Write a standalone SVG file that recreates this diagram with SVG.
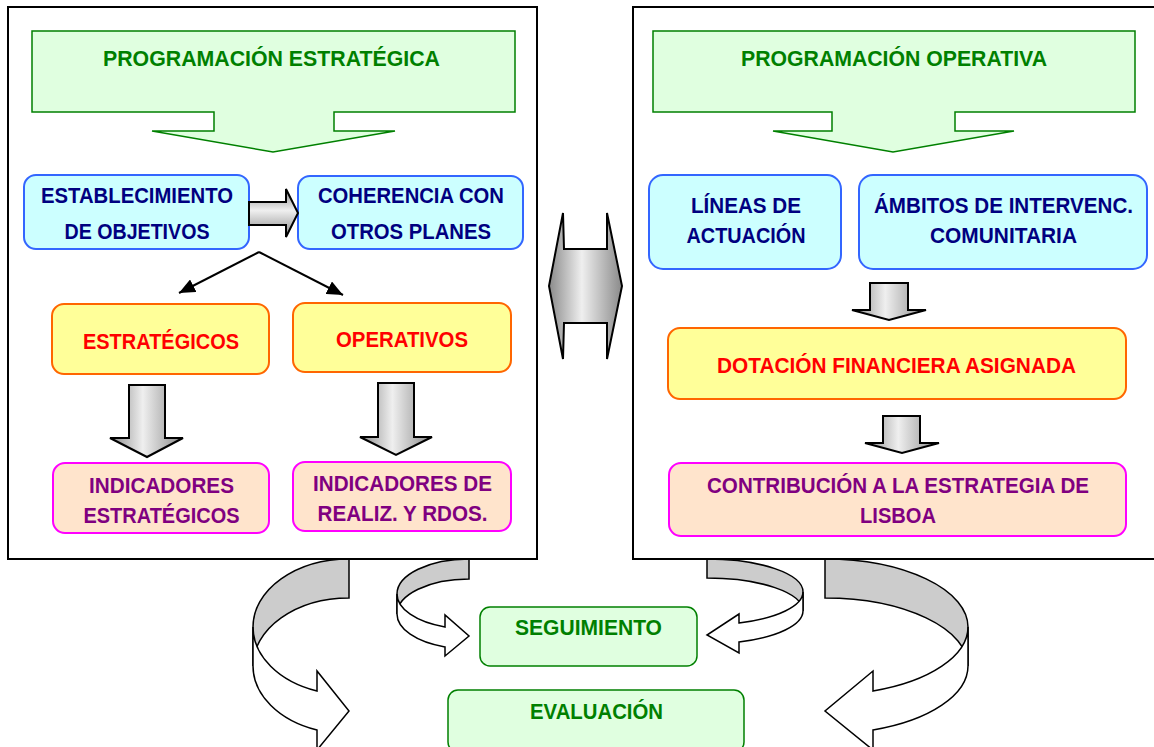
<svg xmlns="http://www.w3.org/2000/svg" width="1154" height="747" viewBox="0 0 1154 747">
<style>
.frame{fill:#fff;stroke:#000;stroke-width:2}
.garrow{fill:#e0ffe0;stroke:#008000;stroke-width:1.5}
.blue{fill:#ccffff;stroke:#3366ff;stroke-width:2}
.yellow{fill:#ffff99;stroke:#ff6600;stroke-width:2}
.peach{fill:#ffe4cc;stroke:#ff00ff;stroke-width:2}
.green{fill:#e0ffe0;stroke:#008000;stroke-width:1.5}
text{font-family:"Liberation Sans",Arial,sans-serif;font-weight:bold;font-size:22px;text-anchor:middle}
.tg{fill:#008000}
.tb{fill:#000080}
.tr{fill:#ff0000}
.tp{fill:#800080}
.gray{stroke:#000;stroke-width:2;stroke-linejoin:miter}
.curveback{fill:#cccccc;stroke:#000;stroke-width:1.5}
.curvefront{fill:#fff;stroke:#000;stroke-width:1.5}
.line{stroke:#000;stroke-width:2;fill:none}
</style>
<defs>
<linearGradient id="gh" x1="0" y1="0" x2="1" y2="0">
<stop offset="0" stop-color="#8a8a8a"/>
<stop offset="0.45" stop-color="#efefef"/>
<stop offset="1" stop-color="#8a8a8a"/>
</linearGradient>
<linearGradient id="gv" x1="0" y1="0" x2="0" y2="1">
<stop offset="0" stop-color="#8a8a8a"/>
<stop offset="0.45" stop-color="#efefef"/>
<stop offset="1" stop-color="#8a8a8a"/>
</linearGradient>
<marker id="ah" markerUnits="userSpaceOnUse" markerWidth="16" markerHeight="14" refX="16" refY="7" orient="auto">
<path d="M0,0 L16,7 L0,14 Z" fill="#000"/>
</marker>
</defs>

<g id="frames">
<rect class="frame" x="8" y="7" width="529" height="552"/>
<rect class="frame" x="633" y="7" width="530" height="552"/>
</g>

<g id="prog-estrategica">
<polygon class="garrow" points="32,31 515,31 515,112 334,112 334,131 395,131 273,152 152,131 214,131 214,112 32,112"/>
<text class="tg" x="271.5" y="66" textLength="337" lengthAdjust="spacingAndGlyphs">PROGRAMACIÓN ESTRATÉGICA</text>
</g>
<g id="prog-operativa">
<polygon class="garrow" points="653,31 1135,31 1135,112 955,112 955,131 1014,131 893,152 773,131 832,131 832,112 653,112"/>
<text class="tg" x="894" y="66" textLength="306" lengthAdjust="spacingAndGlyphs">PROGRAMACIÓN OPERATIVA</text>
</g>

<g id="establecimiento">
<rect class="blue" x="24" y="175" width="225" height="74" rx="12"/>
<text class="tb" x="137" y="203" textLength="192" lengthAdjust="spacingAndGlyphs">ESTABLECIMIENTO</text>
<text class="tb" x="137" y="239" textLength="145" lengthAdjust="spacingAndGlyphs">DE OBJETIVOS</text>
</g>
<g id="coherencia">
<rect class="blue" x="298" y="176" width="225" height="73" rx="12"/>
<text class="tb" x="411" y="203" textLength="186" lengthAdjust="spacingAndGlyphs">COHERENCIA CON</text>
<text class="tb" x="411" y="239" textLength="160" lengthAdjust="spacingAndGlyphs">OTROS PLANES</text>
</g>
<g id="estrategicos">
<rect class="yellow" x="52" y="304" width="217" height="70" rx="12"/>
<text class="tr" x="161" y="349" textLength="156" lengthAdjust="spacingAndGlyphs">ESTRATÉGICOS</text>
</g>
<g id="operativos">
<rect class="yellow" x="293" y="303" width="218" height="69" rx="12"/>
<text class="tr" x="402" y="346.5" textLength="132" lengthAdjust="spacingAndGlyphs">OPERATIVOS</text>
</g>
<g id="ind-estrategicos">
<rect class="peach" x="53" y="463" width="216" height="70" rx="12"/>
<text class="tp" x="161.5" y="493" textLength="145" lengthAdjust="spacingAndGlyphs">INDICADORES</text>
<text class="tp" x="161.5" y="522.5" textLength="156" lengthAdjust="spacingAndGlyphs">ESTRATÉGICOS</text>
</g>
<g id="ind-realiz">
<rect class="peach" x="293" y="462" width="218" height="69" rx="12"/>
<text class="tp" x="402.5" y="491" textLength="179" lengthAdjust="spacingAndGlyphs">INDICADORES DE</text>
<text class="tp" x="402.5" y="521" textLength="170" lengthAdjust="spacingAndGlyphs">REALIZ. Y RDOS.</text>
</g>

<g id="lineas">
<rect class="blue" x="649" y="175" width="192" height="94" rx="14"/>
<text class="tb" x="746" y="213" textLength="110" lengthAdjust="spacingAndGlyphs">LÍNEAS DE</text>
<text class="tb" x="746" y="243" textLength="119" lengthAdjust="spacingAndGlyphs">ACTUACIÓN</text>
</g>
<g id="ambitos">
<rect class="blue" x="859" y="175" width="288" height="94" rx="14"/>
<text class="tb" x="1003.5" y="213" textLength="259" lengthAdjust="spacingAndGlyphs">ÁMBITOS DE INTERVENC.</text>
<text class="tb" x="1003.5" y="243" textLength="147" lengthAdjust="spacingAndGlyphs">COMUNITARIA</text>
</g>
<g id="dotacion">
<rect class="yellow" x="668" y="328" width="458" height="71" rx="12"/>
<text class="tr" x="896.5" y="373" textLength="359" lengthAdjust="spacingAndGlyphs">DOTACIÓN FINANCIERA ASIGNADA</text>
</g>
<g id="contribucion">
<rect class="peach" x="669" y="463" width="457" height="73" rx="12"/>
<text class="tp" x="898" y="493" textLength="382" lengthAdjust="spacingAndGlyphs">CONTRIBUCIÓN A LA ESTRATEGIA DE</text>
<text class="tp" x="898" y="523" textLength="76" lengthAdjust="spacingAndGlyphs">LISBOA</text>
</g>

<g id="seguimiento">
<rect class="green" x="480" y="607" width="217" height="59" rx="10"/>
<text class="tg" x="588.5" y="635" textLength="147" lengthAdjust="spacingAndGlyphs">SEGUIMIENTO</text>
</g>
<g id="evaluacion">
<rect class="green" x="448" y="690" width="296" height="62" rx="10"/>
<text class="tg" x="596.5" y="719" textLength="133" lengthAdjust="spacingAndGlyphs">EVALUACIÓN</text>
</g>

<g id="connectors">
<polygon class="gray" fill="url(#gv)" points="249,202 286,202 286,189 298,213 286,237 286,225 249,225"/>
<line class="line" x1="259" y1="252" x2="179" y2="293" marker-end="url(#ah)"/>
<line class="line" x1="259" y1="252" x2="343" y2="295" marker-end="url(#ah)"/>
<polygon class="gray" fill="url(#gh)" points="129,385 165,385 165,438 183,438 147,457 110,438 129,438"/>
<polygon class="gray" fill="url(#gh)" points="378,383 414,383 414,437 432,437 396,455 360,437 378,437"/>
<polygon class="gray" fill="url(#gh)" points="870,283 908,283 908,310 926,310 889,320 852,310 870,310"/>
<polygon class="gray" fill="url(#gh)" points="883,416 920,416 920,443 939,443 902,453 865,443 883,443"/>
<polygon class="gray" fill="url(#gh)" points="563,213 564,249 607,249 607,213 622,286 607,359 607,323 564,323 563,359 549,286"/>
<path class="curveback" d="M349,559 A96,68 0 0 0 253,627 L253,666 A96,68 0 0 1 349,598 Z"/>
<path class="curvefront" d="M253,627 A96,68 0 0 0 317,691 L317,671 L349,711 L317,750 L317,730 A96,68 0 0 1 253,666 Z"/>
<path class="curveback" d="M469,559 A72,35 0 0 0 397,594 L397,614 A72,35 0 0 1 469,579 Z"/>
<path class="curvefront" d="M397,594 A72,35 0 0 0 445,627 L445,615 L469,636 L445,656 L445,647 A72,35 0 0 1 397,614 Z"/>
<path class="curveback" d="M707,559 A96,33 0 0 1 803,592 L803,611 A96,33 0 0 0 707,578 Z"/>
<path class="curvefront" d="M803,592 A96,33 0 0 1 739,623 L739,614 L707,635 L739,653 L739,642 A96,33 0 0 0 803,611 Z"/>
<path class="curveback" d="M825,559 A143,68 0 0 1 968,627 L968,666 A143,68 0 0 0 825,598 Z"/>
<path class="curvefront" d="M968,627 A143,68 0 0 1 873,691 L873,671 L825,711 L873,750 L873,730 A143,68 0 0 0 968,666 Z"/>
</g>
</svg>
